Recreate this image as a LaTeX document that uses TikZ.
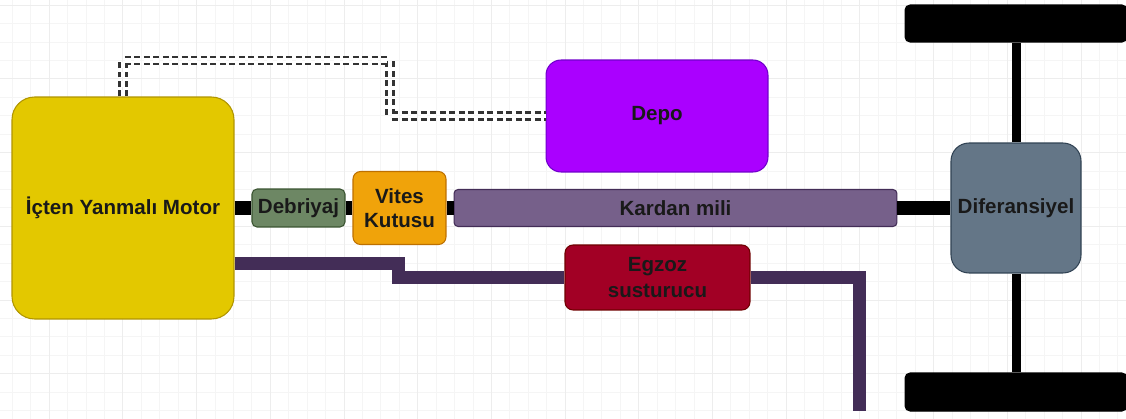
\documentclass[tikz,border=0pt]{standalone}
\usepackage{fontspec}
\setmainfont{Liberation Sans}
\usetikzlibrary{arrows.meta}

\definecolor{motorfill}{HTML}{E3C800}
\definecolor{motordraw}{HTML}{B09500}
\definecolor{clutchfill}{HTML}{6D8764}
\definecolor{clutchdraw}{HTML}{3A5431}
\definecolor{gearfill}{HTML}{F0A30A}
\definecolor{geardraw}{HTML}{BD7000}
\definecolor{shaftfill}{HTML}{76608A}
\definecolor{pipecol}{HTML}{432D57}
\definecolor{tankfill}{HTML}{AA00FF}
\definecolor{tankdraw}{HTML}{7100CC}
\definecolor{mufflerfill}{HTML}{A20025}
\definecolor{mufflerdraw}{HTML}{6F0000}
\definecolor{difffill}{HTML}{647687}
\definecolor{diffdraw}{HTML}{314354}

\begin{document}
\begin{tikzpicture}[x=0.02cm,y=-0.02cm]
    \clip (0,0) rectangle (1126,419);
    \fill[white] (0,0) rectangle (1126,419);

    % background grid
    \begin{scope}[line width=0.3pt]
      \foreach \k in {-2,...,58}
        \draw[black!4] ({49+18.425*\k},0) -- ++(0,419);
      \foreach \k in {0,...,22}
        \draw[black!4] (0,{5+18.425*\k}) -- ++(1126,0);
      \foreach \k in {-1,...,15}
        \draw[black!7] ({49+73.7*\k},0) -- ++(0,419);
      \foreach \k in {0,...,5}
        \draw[black!7] (0,{5+73.7*\k}) -- ++(1126,0);
    \end{scope}

    \begin{scope}[every node/.style={draw,line width=0.6pt,inner sep=0pt,
        align=center,text=black!90,font=\fontsize{11.7}{13.8}\selectfont\bfseries}]
      \node[fill=motorfill,draw=motordraw,minimum width=4.44cm,minimum height=4.44cm,
        rounded corners=0.45cm] (motor) at (123,208) {İçten Yanmalı Motor};
      \node[fill=clutchfill,draw=clutchdraw,minimum width=1.86cm,minimum height=0.76cm,
        rounded corners=0.1cm] (debriyaj) at (298.5,208) {Debriyaj};
      \node[fill=gearfill,draw=geardraw,minimum width=1.86cm,minimum height=1.46cm,
        rounded corners=0.15cm] (vites) at (399.5,208) {Vites\\Kutusu};
      \node[fill=shaftfill,draw=pipecol,minimum width=8.86cm,minimum height=0.74cm,
        rounded corners=0.08cm] (kardan) at (675.5,208) {Kardan mili};
      \node[fill=tankfill,draw=tankdraw,minimum width=4.44cm,minimum height=2.24cm,
        rounded corners=0.3cm] (depo) at (657,116) {Depo};
      \node[fill=mufflerfill,draw=mufflerdraw,minimum width=3.7cm,minimum height=1.3cm,
        rounded corners=0.16cm,font=\fontsize{11.7}{14.8}\selectfont\bfseries] (egzoz) at (657.5,277.5) {Egzoz\\susturucu};
      \node[fill=difffill,draw=diffdraw,minimum width=2.6cm,minimum height=2.6cm,
        rounded corners=0.36cm] (diff) at (1016,208) {Diferansiyel};
      \node[fill=black,minimum width=4.44cm,minimum height=0.74cm,
        rounded corners=0.1cm] (wheelT) at (1016,23.5) {};
      \node[fill=black,minimum width=4.44cm,minimum height=0.76cm,
        rounded corners=0.1cm] (wheelB) at (1016,392) {};
    \end{scope}

    \coordinate (fuelbend) at (390,60.5);
    \coordinate (tail) at (859,411);

    % drive line
    \begin{scope}[every path/.style={draw=black,line width=0.28cm}]
      \path (motor) -- (debriyaj);
      \path (debriyaj) -- (vites);
      \path (vites) -- (kardan);
      \path (kardan) -- (diff);
    \end{scope}
    \begin{scope}[every path/.style={draw=black,line width=0.18cm}]
      \path (diff) -- (wheelT);
      \path (diff) -- (wheelB);
    \end{scope}

    % exhaust
    \begin{scope}[every path/.style={draw=pipecol,line width=0.26cm,line join=miter}]
      \path ([yshift=-1.12cm]motor.east) -- ++(164,0) |- (egzoz.west);
      \path (egzoz.east) -| (tail);
    \end{scope}

    % fuel line
    \draw[black!80,line width=1.3pt,double=white,double distance=0.095cm,
      dash pattern=on 0.12cm off 0.07cm] (motor.north) |- (fuelbend) |- (depo.west);
\end{tikzpicture}
\end{document}
